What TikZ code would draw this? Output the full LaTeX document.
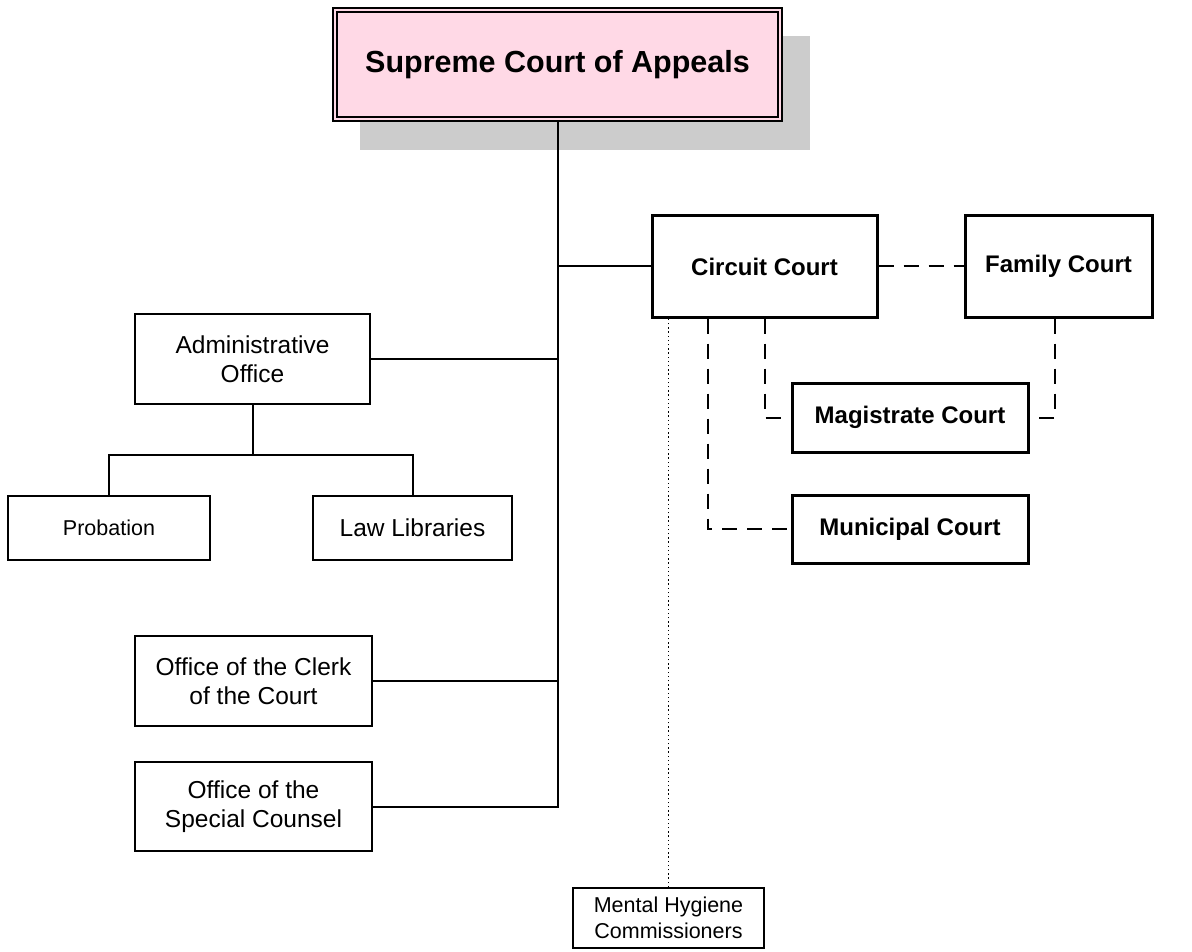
\documentclass[tikz,border=0pt]{standalone}
\usepackage{fontspec}
\setmainfont{Liberation Sans}
\usetikzlibrary{calc}
\definecolor{pinkfill}{RGB}{255,217,230}
\definecolor{shadowgray}{RGB}{204,204,204}
\begin{document}
\begin{tikzpicture}[x=1pt,y=-1pt,
  box/.style={draw, line width=1.8pt, rectangle, inner sep=0pt, align=center, font=\fontsize{24.5}{29}\selectfont},
  smallbox/.style={box, font=\fontsize{21.5}{25.5}\selectfont},
  court/.style={draw, line width=3pt, rectangle, inner sep=0pt, align=center, font=\fontsize{24}{28}\selectfont\bfseries},
  topbox/.style={draw, line width=2pt, rectangle, inner sep=0pt, fill=pinkfill, align=center, font=\fontsize{30.5}{34}\selectfont\bfseries},
  link/.style={line width=2pt},
  dashlink/.style={line width=2pt, dash pattern=on 15pt off 10pt},
  dotlink/.style={line width=1.6pt, dash pattern=on 1.4pt off 2.8pt}]
\useasboundingbox (0,0) rectangle (1192,952);

% shadow of the top box
\fill[shadowgray] (360,36) rectangle (810,150);

\node[topbox, minimum width=449pt, minimum height=113pt] (sup) at (557.5,64.5) {Supreme Court of Appeals};
\draw[line width=1.8pt] ([shift={(5pt,-5pt)}]sup.north west) rectangle ([shift={(-5pt,5pt)}]sup.south east);

% courts
\node[court, minimum width=225pt, minimum height=101pt] (circuit) at (764.5,266.5) {Circuit Court};
\node[court, minimum width=187pt, minimum height=101pt] (family) at (1058.5,266.5) {Family Court};
\node[court, minimum width=236pt, minimum height=69pt] (mag) at (910,417.5) {Magistrate Court};
\node[court, minimum width=236pt, minimum height=68pt] (mun) at (910,529) {Municipal Court};

% offices
\node[box, minimum width=235pt, minimum height=90pt] (admin) at (252.5,359) {Administrative\\Office};
\node[smallbox, minimum width=202pt, minimum height=64pt] (prob) at (109,528) {Probation};
\node[box, minimum width=199pt, minimum height=64pt] (law) at (412.5,528) {Law Libraries};
\node[box, minimum width=237pt, minimum height=90pt] (clerk) at (253.5,681) {Office of the Clerk\\of the Court};
\node[box, minimum width=237pt, minimum height=89pt] (sc) at (253.5,806.5) {Office of the\\Special Counsel};
\node[smallbox, minimum width=191pt, minimum height=60pt] (mh) at (668.5,918) {Mental Hygiene\\Commissioners};

% trunk and branches
\draw[link] (sup.south) -- (sup.south |- sc.east) -- (sc.east);
\draw[link] (circuit.west) -- (circuit.west -| sup.south);
\draw[link] (admin.east) -- (admin.east -| sup.south);
\draw[link] (clerk.east) -- (clerk.east -| sup.south);

% administrative office subtree
\coordinate (adminjoin) at ($(admin.south)+(0pt,-50pt)$);
\draw[link] (admin.south) -- (adminjoin);
\draw[link] (prob.north) |- (adminjoin) -| (law.north);

% dashed court links
\draw[dashlink] (circuit.east) -- (family.west);
\draw[dashlink] (circuit.south) |- (mag.west);
\draw[dashlink] ([xshift=-3.5pt]family.south) |- (mag.east);
\draw[dashlink] ($(circuit.south west)!0.25!(circuit.south east)$) |- (mun.west);

% dotted link
\draw[dotlink] (mh.north) -- (mh.north |- circuit.south);
\end{tikzpicture}
\end{document}
